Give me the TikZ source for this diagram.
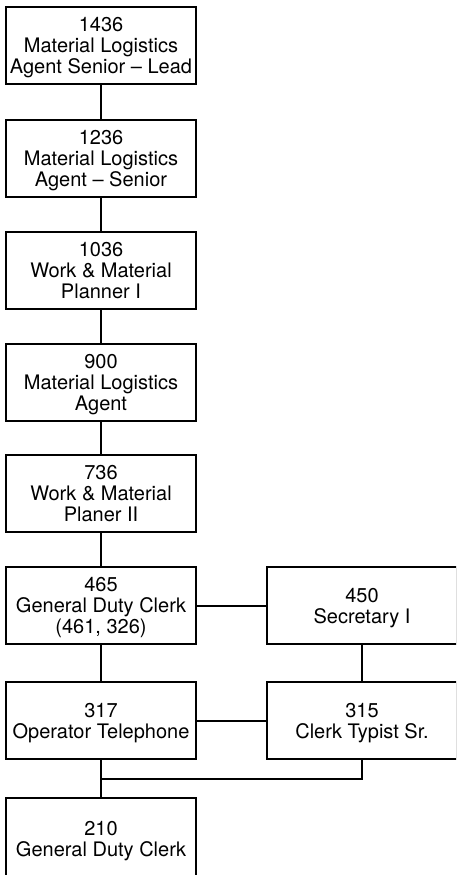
\documentclass[tikz,border=0pt]{standalone}
\usepackage{fontspec}
\setmainfont{TeX Gyre Heros}
\begin{document}
\begin{tikzpicture}[x=1pt,y=-1pt,
  gradebox/.style={draw=black, line width=2pt, fill=white,
    minimum width=190pt, minimum height=77pt, inner sep=0pt,
    align=center, text depth=-1pt,
    font=\fontsize{20}{21}\selectfont, text=black},
  link/.style={draw=black, line width=2pt}]
  \useasboundingbox (0,0) rectangle (456,875);
  \clip (0,0) rectangle (456,875);

  % main column
  \node[gradebox] (g1436) at (101,45.5) {1436\\Material Logistics\\Agent Senior -- Lead};
  \node[gradebox] (g1236) at (101,158) {1236\\Material Logistics\\Agent -- Senior};
  \node[gradebox] (g1036) at (101,270) {1036\\Work \& Material\\Planner I};
  \node[gradebox] (g900)  at (101,382) {900\\Material Logistics\\Agent};
  \node[gradebox] (g736)  at (101,493.5) {736\\Work \& Material\\Planer II};
  \node[gradebox] (g465)  at (101,605.5) {465\\General Duty Clerk\\(461, 326)};
  \node[gradebox] (g317)  at (101,720.5) {317\\Operator Telephone};
  \node[gradebox, minimum height=81pt] (g210) at (101,838.5) {210\\General Duty Clerk};

  % side column
  \node[gradebox] (g450) at (362,605.5) {450\\Secretary I};
  \node[gradebox] (g315) at (362,720.5) {315\\Clerk Typist Sr.};

  % connectors
  \draw[link] (g1436) -- (g1236);
  \draw[link] (g1236) -- (g1036);
  \draw[link] (g1036) -- (g900);
  \draw[link] (g900) -- (g736);
  \draw[link] (g736) -- (g465);
  \draw[link] (g465) -- (g317);
  \draw[link] (g317) -- (g210);
  \draw[link] (g465) -- (g450);
  \draw[link] (g317) -- (g315);
  \draw[link] (g450) -- (g315);
  \coordinate (join) at (g317.south |- 0,779);
  \draw[link] (g315.south) |- (join);
\end{tikzpicture}
\end{document}
